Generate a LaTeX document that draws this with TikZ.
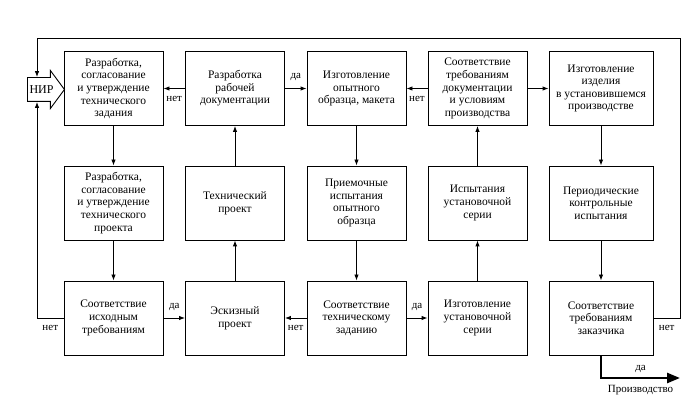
\documentclass[tikz,border=0pt]{standalone}
\usepackage{fontspec}
\setmainfont{Liberation Serif}
\usetikzlibrary{arrows.meta,shapes.arrows}

\begin{document}
\begin{tikzpicture}[x=1pt, y=-1pt, line width=0.9pt,
		box/.style={
			rectangle, draw=black, align=center, inner sep=1pt,
			minimum width=99pt, minimum height=74pt,
			font=\fontsize{11.5}{12.6}\selectfont
		},
		wide/.style={box, minimum width=104pt},
		arr/.style={-{Latex[length=6pt,width=4.5pt]}},
		lbl/.style={font=\fontsize{11}{12}\selectfont, inner sep=2pt}
	]
		\useasboundingbox (0,0) rectangle (689,401);

		\node[
			single arrow, draw=black, anchor=tail,
			minimum height=37pt, minimum width=38pt,
			single arrow tip angle=107, inner xsep=1pt, inner ysep=7.5pt,
			text height=8pt, text depth=0pt, font=\fontsize{12}{12}\selectfont
		] (NIR) at (27,89.5) {НИР};

		% upper row
		\node[box] (A1) at (113.5,88.5) {Разработка,\\согласование\\и утверждение\\технического\\задания};
		\node[box] (A2) at (235,88.5) {Разработка\\рабочей\\документации};
		\node[box] (A3) at (356.5,88.5) {Изготовление\\опытного\\образца, макета};
		\node[box] (A4) at (477.5,88.5) {Соответствие\\требованиям\\документации\\и условиям\\производства};
		\node[wide] (A5) at (601,88.5) {Изготовление\\изделия\\в установившемся\\производстве};

		% middle row
		\node[box] (B1) at (113.5,203) {Разработка,\\согласование\\и утверждение\\технического\\проекта};
		\node[box] (B2) at (235,203) {Технический\\проект};
		\node[box] (B3) at (356.5,203) {Приемочные\\испытания\\опытного\\образца};
		\node[box] (B4) at (477.5,203) {Испытания\\установочной\\серии};
		\node[wide] (B5) at (601,203) {Периодические\\контрольные\\испытания};

		% lower row
		\node[box] (C1) at (113.5,318) {Соответствие\\исходным\\требованиям};
		\node[box] (C2) at (235,318) {Эскизный\\проект};
		\node[box] (C3) at (356.5,318) {Соответствие\\техническому\\заданию};
		\node[box] (C4) at (477.5,318) {Изготовление\\установочной\\серии};
		\node[wide] (C5) at (601,318) {Соответствие\\требованиям\\заказчика};

		\coordinate (lt) at (37,38);
		\coordinate (rt) at (680,38);
		\coordinate (lb) at (37,318);
		\coordinate (rb) at (680,318);
		\coordinate (prod) at (680,378);

		\draw[arr] (A1) -- (B1);
		\draw[arr] (B1) -- (C1);
		\draw[arr] (C2) -- (B2);
		\draw[arr] (B2) -- (A2);
		\draw[arr] (A3) -- (B3);
		\draw[arr] (B3) -- (C3);
		\draw[arr] (C4) -- (B4);
		\draw[arr] (B4) -- (A4);
		\draw[arr] (A5) -- (B5);
		\draw[arr] (B5) -- (C5);

		\draw[arr] (A2) -- node[lbl, below=5pt] {нет} (A1);
		\draw[arr] (A2) -- node[lbl, above=5pt] {да} (A3);
		\draw[arr] (A4) -- node[lbl, below=5pt] {нет} (A3);
		\draw[arr] (A4) -- (A5);
		\draw[arr] (C1) -- node[lbl, above=5pt] {да} (C2);
		\draw[arr] (C3) -- node[lbl, below=5pt] {нет} (C2);
		\draw[arr] (C3) -- node[lbl, above=5pt] {да} (C4);

		\draw[arr] (C1.west) -- node[lbl, below=5pt] {нет} (lb) -- (lb |- NIR.south);
		\draw[arr] (C5.east) -- node[lbl, below=5pt] {нет} (rb) -- (rt) -- (lt) -- (lt |- NIR.north);

		\draw[line width=2.6pt, -{Triangle[length=13pt,width=10pt]}] (C5.south) |-
			node[lbl, pos=0.75, above=2pt] {да}
			node[lbl, pos=0.75, below=4pt] {Производство} (prod);
	\end{tikzpicture}
\end{document}
